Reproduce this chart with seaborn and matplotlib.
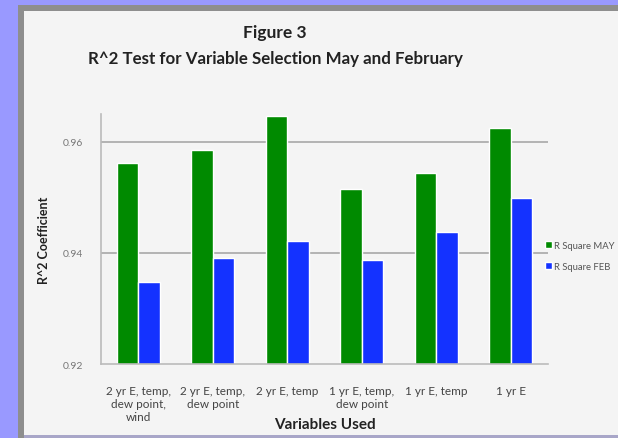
import numpy as np
import pandas as pd
import matplotlib
matplotlib.use('Agg')
import matplotlib.pyplot as plt
from matplotlib.patches import Rectangle
import seaborn as sns

# data
categories = ['2 yr E, temp,\ndew point,\nwind', '2 yr E, temp,\ndew point', '2 yr E, temp',
              '1 yr E, temp,\ndew point', '1 yr E, temp', '1 yr E']
r2_may = [0.9562, 0.9586, 0.9647, 0.9515, 0.9543, 0.9625]
r2_feb = [0.9347, 0.9391, 0.9422, 0.9388, 0.9438, 0.9498]
series = ['R Square MAY', 'R Square FEB']
colors = ['#008A00', '#1432FF']

df = pd.DataFrame({
    'Variables': categories * 2,
    'R2': r2_may + r2_feb,
    'Series': [series[0]] * len(categories) + [series[1]] * len(categories),
})

sns.set_style('white')
plt.rcParams['font.family'] = ['Lato', 'DejaVu Sans']

W, H = 618, 439
fig = plt.figure(figsize=(W / 100, H / 100), dpi=100, facecolor='#9999FF')

# frame: gray border + light panel
fig.patches.append(Rectangle((18 / W, 0), 1, 1 - 6 / H, transform=fig.transFigure,
                             facecolor='#8E8E8E', edgecolor='none', zorder=-2))
fig.patches.append(Rectangle((24 / W, 3 / H), 1, 1 - 15 / H, transform=fig.transFigure,
                             facecolor='#F4F4F4', edgecolor='none', zorder=-1))
fig.patches.append(Rectangle((24 / W, 0), 1, 3 / H, transform=fig.transFigure,
                             facecolor='#A8A6C8', edgecolor='none', zorder=-1))

ax = fig.add_axes([101 / W, 1 - 365 / H, 447 / W, 250 / H])
ax.set_facecolor('none')

sns.barplot(data=df, x='Variables', y='R2', hue='Series', palette=colors,
            width=0.58, gap=0, ax=ax, legend=False, saturation=1)

ax.set_ylim(0.92, 0.965)
ax.set_xlim(-0.5, len(categories) - 0.5)
ax.set_yticks([0.92, 0.94, 0.96])
ax.set_yticklabels(['0.92', '0.94', '0.96'], fontsize=7.5, color='#777777')
ax.set_xticks(range(len(categories)))
ax.set_xticklabels(categories, fontsize=8.5, color='#444444', linespacing=1.25)
ax.set_xticks(np.arange(0.5, len(categories) - 0.5, 1), minor=True)
ax.tick_params(axis='x', which='major', length=0, pad=15)
ax.tick_params(axis='x', which='minor', length=3, color='#BBBBBB', direction='out')
ax.tick_params(axis='y', length=4, color='#BBBBBB', direction='out', pad=9)

for y in [0.94, 0.96]:
    ax.axhline(y, color='#A8A8A8', linewidth=1.2, zorder=0)

sns.despine(ax=ax, top=True, right=True)
for s in ['left', 'bottom']:
    ax.spines[s].set_color('#BBBBBB')
    ax.spines[s].set_linewidth(1.2)

ax.set_xlabel('Variables Used', fontsize=11, fontweight='bold', color='#222222', labelpad=-4)
ax.set_ylabel('R^2 Coefficient', fontsize=9, fontweight='bold', color='#222222', labelpad=9)

fig.text(275 / W, 1 - 33 / H, 'Figure 3', ha='center', va='center',
         fontsize=12.5, fontweight='bold', color='#222222')
fig.text(275 / W, 1 - 59 / H, 'R^2 Test for Variable Selection May and February', ha='center',
         va='center', fontsize=12.2, fontweight='bold', color='#222222')

handles = [Rectangle((0, 0), 1, 1, facecolor=c) for c in colors]
fig.legend(handles, series, loc='center left', bbox_to_anchor=(536 / W, 1 - 257 / H),
           frameon=False, fontsize=6.8, handlelength=0.8, handleheight=0.8,
           handletextpad=0.25, labelspacing=1.3, labelcolor='#555555')

fig.savefig('out.png', dpi=100, facecolor=fig.get_facecolor())
